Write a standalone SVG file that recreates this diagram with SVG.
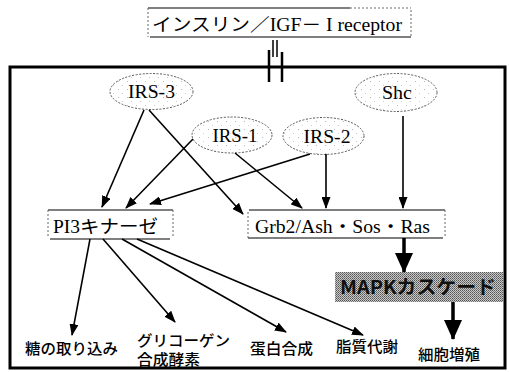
<svg xmlns="http://www.w3.org/2000/svg" width="509" height="372" viewBox="0 0 509 372">
<defs>
<pattern id="stip" width="9" height="8" patternUnits="userSpaceOnUse">
<rect width="9" height="8" fill="#fff"/>
<rect x="1" y="1" width="1" height="1" fill="#bbb"/>
<rect x="5" y="5" width="1" height="1" fill="#ccc"/>
</pattern>
<pattern id="half" width="2" height="2" patternUnits="userSpaceOnUse">
<rect width="2" height="2" fill="#c8c8c8"/>
<rect width="1" height="1" fill="#555"/>
<rect x="1" y="1" width="1" height="1" fill="#777"/>
</pattern>
<marker id="ah" markerWidth="12" markerHeight="9" refX="11" refY="4.5" orient="auto" markerUnits="userSpaceOnUse">
<path d="M0,0 L12,4.5 L0,9 Z" fill="#000"/>
</marker>
<marker id="big" markerWidth="20" markerHeight="18" refX="19" refY="9" orient="auto" markerUnits="userSpaceOnUse">
<path d="M0,0 L20,9 L0,18 Z" fill="#000"/>
</marker>
</defs>
<style>
.ell{fill:url(#stip);stroke:#555;stroke-width:1;stroke-dasharray:2 1.5}
.lat{font-family:"Liberation Serif","Noto Sans CJK JP",serif;font-size:18px;fill:#000}
.jp{font-family:"Noto Sans CJK JP","Noto Sans",sans-serif;font-size:15px;font-weight:500;fill:#000}
.thin{stroke:#000;stroke-width:1.6;fill:none;marker-end:url(#ah)}
.thick{stroke:#000;stroke-width:3.5;fill:none;marker-end:url(#big)}
.bx{stroke:#000;stroke-width:1.2}
.bxd{stroke:#666;stroke-width:1;stroke-dasharray:2 2}
</style>
<rect width="509" height="372" fill="#fff"/>

<g id="receptor">
<line class="bx" x1="148" y1="8" x2="350" y2="8"/>
<line class="bxd" x1="350" y1="8" x2="411" y2="8"/>
<line class="bx" x1="150" y1="37" x2="411" y2="37"/>
<line class="bxd" x1="148" y1="8" x2="148" y2="37"/>
<line class="bxd" x1="411" y1="10" x2="411" y2="36"/>
<text class="lat" x="152" y="31" textLength="250" lengthAdjust="spacingAndGlyphs">インスリン／IGF－ I receptor</text>
</g>

<g id="mainbox">
<rect x="10" y="67" width="495" height="301" fill="none" stroke="#000" stroke-width="3"/>
</g>

<g id="irs3">
<ellipse class="ell" cx="151.5" cy="91.5" rx="41.5" ry="18"/>
<text class="lat" x="151.5" y="98" text-anchor="middle" textLength="47" lengthAdjust="spacingAndGlyphs">IRS-3</text>
</g>
<g id="shc">
<ellipse class="ell" cx="396" cy="92.5" rx="41" ry="19"/>
<text class="lat" x="397" y="99" text-anchor="middle" textLength="30" lengthAdjust="spacingAndGlyphs">Shc</text>
</g>
<g id="irs1">
<ellipse class="ell" cx="232" cy="135" rx="40" ry="18"/>
<text class="lat" x="235" y="142" text-anchor="middle" textLength="45" lengthAdjust="spacingAndGlyphs">IRS-1</text>
</g>
<g id="irs2">
<ellipse class="ell" cx="323.5" cy="136" rx="40.5" ry="18.5"/>
<text class="lat" x="327" y="143" text-anchor="middle" textLength="47" lengthAdjust="spacingAndGlyphs">IRS-2</text>
</g>

<g id="pi3k">
<line class="bx" x1="48" y1="210" x2="173" y2="210"/>
<line class="bx" x1="50" y1="239" x2="170" y2="239"/>
<line class="bxd" x1="48" y1="210" x2="48" y2="238"/>
<line class="bxd" x1="173" y1="210" x2="173" y2="238"/>
<text class="lat" x="53" y="233" textLength="105" lengthAdjust="spacingAndGlyphs">PI3キナーゼ</text>
</g>

<g id="grb2">
<line class="bx" x1="249" y1="210" x2="445" y2="210"/>
<line class="bx" x1="248" y1="238" x2="443" y2="238"/>
<line class="bxd" x1="248" y1="212" x2="248" y2="238"/>
<line class="bxd" x1="445" y1="210" x2="445" y2="236"/>
<text class="lat" x="255" y="233" textLength="175" lengthAdjust="spacingAndGlyphs">Grb2/Ash・Sos・Ras</text>
</g>

<g id="mapk">
<rect x="335" y="272" width="168" height="30" fill="url(#half)"/>
<text x="340" y="294" font-family="Noto Sans CJK JP, sans-serif" font-weight="bold" font-size="19" fill="#111" textLength="156" lengthAdjust="spacingAndGlyphs">MAPKカスケード</text>
</g>

<g id="labels">
<text class="jp" x="25" y="354" textLength="93" lengthAdjust="spacingAndGlyphs">糖の取り込み</text>
<text class="jp" x="137" y="346" textLength="93" lengthAdjust="spacingAndGlyphs">グリコーゲン</text>
<text class="jp" x="137" y="365" textLength="63" lengthAdjust="spacingAndGlyphs">合成酵素</text>
<text class="jp" x="250" y="354" textLength="63" lengthAdjust="spacingAndGlyphs">蛋白合成</text>
<text class="jp" x="336" y="352" textLength="62" lengthAdjust="spacingAndGlyphs">脂質代謝</text>
<text class="jp" x="418" y="360" textLength="62" lengthAdjust="spacingAndGlyphs">細胞増殖</text>
</g>

<g id="connectors">
<line x1="269" y1="50" x2="269" y2="82" stroke="#000" stroke-width="2.5"/>
<line x1="282" y1="52" x2="282" y2="82" stroke="#000" stroke-width="2.5"/>
<line x1="273" y1="40" x2="273" y2="57" stroke="#000" stroke-width="1.5"/>
<line x1="277" y1="40" x2="277" y2="57" stroke="#000" stroke-width="1.5"/>
<line class="thin" x1="144" y1="110" x2="102" y2="207"/>
<line class="thin" x1="149" y1="110" x2="243" y2="214"/>
<line class="thin" x1="193" y1="139" x2="126" y2="208"/>
<line class="thin" x1="235" y1="153" x2="302" y2="208"/>
<line class="thin" x1="310" y1="154" x2="150" y2="204"/>
<line class="thin" x1="326" y1="154" x2="326" y2="208"/>
<line class="thin" x1="403" y1="116" x2="403" y2="208"/>
<line class="thick" x1="404" y1="238" x2="404" y2="272"/>
<line class="thick" x1="453" y1="302" x2="453" y2="339"/>
<line class="thin" x1="90" y1="239" x2="72" y2="335"/>
<line class="thin" x1="103" y1="239" x2="175" y2="322"/>
<line class="thin" x1="122" y1="239" x2="286" y2="332"/>
<line class="thin" x1="137" y1="239" x2="363" y2="335"/>
</g>
</svg>
